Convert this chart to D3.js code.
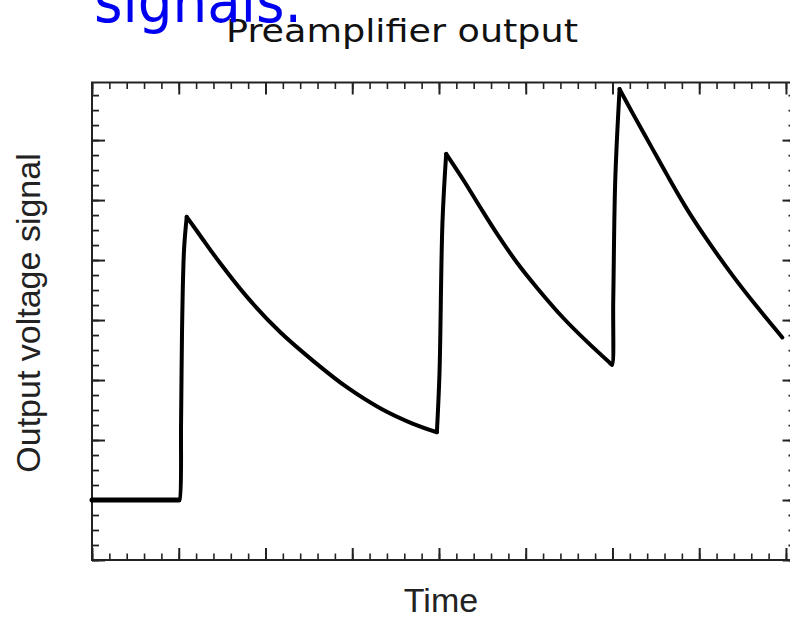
<!DOCTYPE html>
<html>
<head>
<meta charset="utf-8">
<script src="https://cdn.jsdelivr.net/npm/d3@7"></script>
<style>
  body { margin: 0; background: #fff; }
  svg { display: block; }
</style>
</head>
<body>
<div id="myChart"></div>
<script>
let width = 790
let height = 617

// signal trace (x: time in major divisions, y: volts in major divisions)
const timeVals = [0, 1.0, 1.009, 1.027, 1.038, 1.061, 1.092,
  1.246, 1.476, 1.784, 2.168, 2.549, 2.938, 3.322, 3.702, 3.976,
  4.006, 4.040, 4.083,
  4.283, 4.475, 4.668, 4.898, 5.129, 5.436, 5.706, 5.975,
  5.994, 6.009, 6.032, 6.082,
  6.243, 6.436, 6.629, 6.859, 7.090, 7.397, 7.667, 7.958]
const signalVals = [1.0, 1.0, 1.0, 2.33, 3.83, 5.17, 5.72,
  5.41, 4.95, 4.39, 3.80, 3.32, 2.88, 2.53, 2.27, 2.13,
  3.12, 5.62, 6.77,
  6.33, 5.88, 5.44, 4.96, 4.54, 4.03, 3.64, 3.28,
  3.25, 4.33, 6.33, 7.85,
  7.42, 6.92, 6.42, 5.85, 5.34, 4.72, 4.22, 3.71]
// indices where the trace turns (flat / rise / decay pieces)
const turnPoints = [0, 1, 6, 15, 18, 26, 30, 38]

const xMajor = d3.range(0, 9, 1)
const xMinor = d3.range(0, 8.11, 0.2)
const yMajor = d3.range(0, 8, 1)
const yMinor = d3.range(0, 7.96, 0.25)

const titleText = "Preamplifier output"
const xLabel = "Time"
const yLabel = "Output voltage signal"

let svg = d3.select("#myChart")
  .append("svg")
  .attr("width", width)
  .attr("height", height)

let x = d3.scaleLinear().domain([0, 8.11]).range([92, 795.5])
let y = d3.scaleLinear().domain([0, 7.96]).range([560, 82.5])

// inward-pointing ticks on all four sides
function ticks(axisFn, vals, size, tx, ty, sw) {
  let g = svg.append("g")
    .attr("transform", `translate(${tx},${ty})`)
    .call(axisFn.tickValues(vals).tickSize(size).tickFormat(""))
  g.select(".domain").remove()
  g.selectAll("line").attr("stroke", "#222").attr("stroke-width", sw)
}
ticks(d3.axisTop(x), xMinor, 6.5, 0, y(0), 1.6)
ticks(d3.axisTop(x), xMajor, 12, 0, y(0), 2)
ticks(d3.axisBottom(x), xMinor, 6.5, 0, y.range()[1], 1.6)
ticks(d3.axisBottom(x), xMajor, 12, 0, y.range()[1], 2)
ticks(d3.axisRight(y), yMinor, 7, x(0), 0, 1.8)
ticks(d3.axisRight(y), yMajor, 13, x(0), 0, 2)
ticks(d3.axisLeft(y), yMinor, 7, x.range()[1], 0, 1.8)
ticks(d3.axisLeft(y), yMajor, 13, x.range()[1], 0, 2)

// frame
svg.append("rect")
  .attr("x", x(0))
  .attr("y", y.range()[1])
  .attr("width", x.range()[1] - x(0))
  .attr("height", y(0) - y.range()[1])
  .attr("fill", "none")
  .attr("stroke", "#222")
  .attr("stroke-width", 2)

let line = d3.line()
  .x(i => x(timeVals[i]))
  .y(i => y(signalVals[i]))
  .curve(d3.curveCatmullRom.alpha(0.5))

// each piece smoothed on its own so the corners stay sharp
let pieces = d3.pairs(turnPoints).map(([a, b]) => d3.range(a, b + 1))
svg.append("g")
  .selectAll("path")
  .data(pieces)
  .enter().append("path")
  .attr("d", line)
  .attr("fill", "none")
  .attr("stroke", "#000")
  .attr("stroke-width", (d, i) => i === 0 ? 5 : 4)
  .attr("stroke-linejoin", "round")
  .attr("stroke-linecap", "round")

// labels
svg.append("text")
  .attr("x", (x(0) + width) / 2)
  .attr("y", 612)
  .attr("text-anchor", "middle")
  .style("font-family", "'Liberation Sans', Arial, sans-serif")
  .style("font-size", "34px")
  .attr("fill", "#222")
  .text(xLabel)

svg.append("text")
  .attr("transform", "translate(40,313) rotate(-90)")
  .attr("text-anchor", "middle")
  .style("font-family", "'Liberation Sans', Arial, sans-serif")
  .style("font-size", "34px")
  .attr("fill", "#222")
  .text(yLabel)

svg.append("text")
  .attr("x", 226)
  .attr("y", 42)
  .attr("textLength", 352)
  .attr("lengthAdjust", "spacingAndGlyphs")
  .style("font-family", "'Comic Sans MS', 'DejaVu Sans', sans-serif")
  .style("font-size", "32px")
  .attr("fill", "#111")
  .text(titleText)

// leftover slide text, cut off at the top
svg.append("text")
  .attr("x", 94)
  .attr("y", 22)
  .attr("textLength", 208)
  .attr("lengthAdjust", "spacingAndGlyphs")
  .style("font-family", "'Comic Sans MS', 'DejaVu Sans', sans-serif")
  .style("font-size", "58px")
  .attr("fill", "#0000f0")
  .text("signals.")
</script>
</body>
</html>
